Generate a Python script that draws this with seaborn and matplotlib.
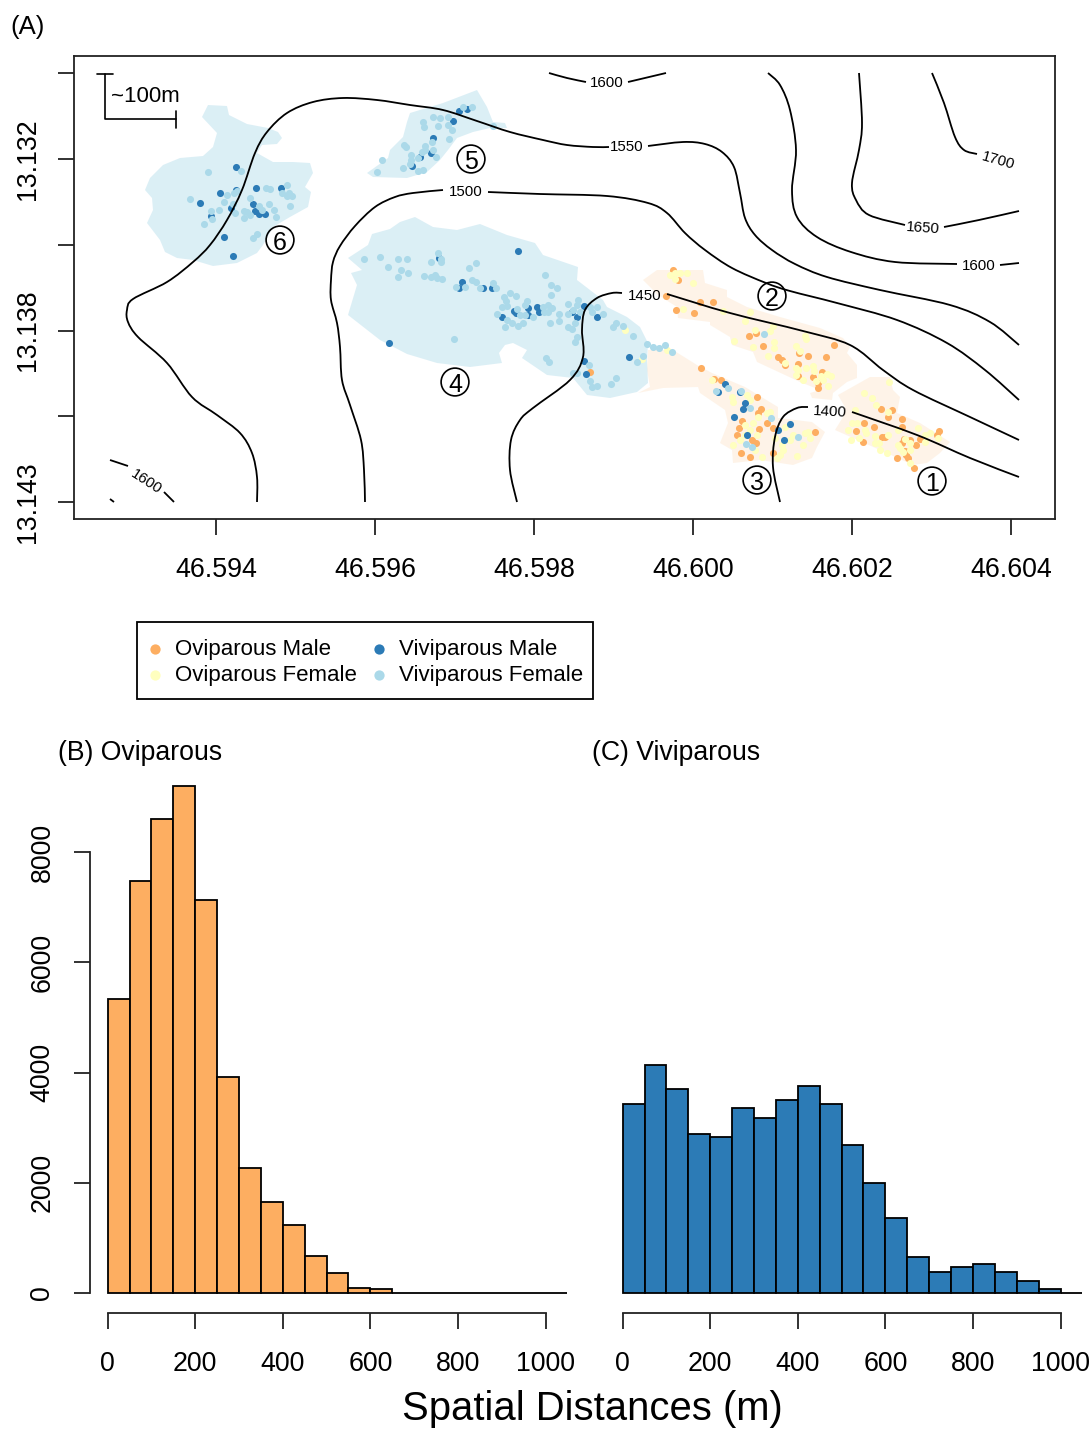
import numpy as np
import pandas as pd
import matplotlib
matplotlib.use("Agg")
import matplotlib.pyplot as plt
from matplotlib.path import Path
from matplotlib.patches import PathPatch, Rectangle
import seaborn as sns

W, H = 1092, 1429
sns.set_theme(style="white")
plt.rcParams['font.family'] = ['Liberation Sans', 'DejaVu Sans']
plt.rcParams['text.color'] = 'black'

ORANGE, YELLOW, BLUE, SKY = "#fdae61", "#ffffbf", "#2c7bb6", "#abd9e9"

# ---- survey-grid data (1 grid unit ~ 1.4 m, northing grows southward)
LON0, LON_PER = 46.594, 0.002 / 159
LAT0, LAT_PER = 13.1325, 0.00275 / 85.8
GRID_E0, GRID_N0 = 216, 159

site6 = [(208,105),(227,106),(229,115),(247,124),(268,128),(278,132),(282,138),(277,144),(262,145),(257,153),(273,162),(293,162),(310,163),(313,173),(305,187),(311,192),(308,207),(290,217),(273,227),(263,245),(257,253),(237,263),(213,266),(193,260),(177,258),(165,252),(160,240),(147,223),(153,210),(152,198),(145,190),(150,178),(163,165),(180,158),(203,156),(213,147),(217,133),(202,117)]
site5 = [(477,90),(487,107),(493,122),(505,123),(507,128),(490,128),(473,132),(457,138),(448,150),(440,160),(427,172),(407,178),(373,177),(367,173),(388,158),(390,150),(403,137),(407,122),(410,113),(443,103)]
site4 = [(415,217),(433,227),(457,230),(480,224),(507,235),(535,243),(543,255),(578,267),(577,280),(603,300),(607,307),(627,317),(640,327),(648,343),(647,360),(648,383),(637,392),(610,398),(587,395),(573,378),(547,375),(522,358),(527,350),(513,343),(505,345),(499,353),(502,363),(470,367),(437,363),(407,354),(380,340),(348,315),(357,285),(351,273),(362,270),(348,258),(368,245),(372,234),(390,229),(400,222)]
site2 = [(643,280),(657,270),(703,270),(705,283),(727,290),(727,297),(747,307),(780,317),(820,328),(843,338),(850,347),(847,353),(857,365),(857,378),(847,382),(833,393),(832,400),(812,398),(810,393),(820,390),(800,382),(757,362),(753,352),(732,345),(730,337),(710,325),(710,322),(678,318),(677,307),(658,295)]
site3 = [(648,350),(673,350),(697,365),(712,373),(745,387),(778,407),(778,418),(812,422),(825,432),(817,447),(812,458),(793,465),(760,460),(733,463),(732,450),(720,443),(728,423),(725,410),(700,393),(698,387),(663,388),(638,393),(650,387),(647,370)]
site1 = [(838,395),(870,377),(890,377),(893,390),(900,397),(897,413),(920,423),(950,442),(940,453),(927,463),(913,465),(880,450),(835,430),(843,417),(845,407)]

ovi_male = [(673,270),(678,280),(666,296),(676,310),(694,313),(700,302),(713,302),(749,336),(756,333),(763,346),(778,357),(782,360),(785,365),(798,364),(799,353),(808,356),(826,357),(834,345),(822,372),(813,377),(818,383),(818,388),(798,376),
 (590,372),(701,368),(714,379),(721,380),(757,397),(761,409),(758,413),(742,421),(739,428),(759,429),(737,435),(741,453),(750,457),(752,440),(756,443),(773,453),(815,432),(773,428),(767,423),
 (881,409),(892,410),(888,417),(902,419),(902,427),(864,423),(856,431),(874,427),(863,442),(885,437),(882,437),(904,439),(910,440),(902,443),(916,445),(897,458),(906,455),(908,458),(914,468),(905,451),(937,435),(939,431),(920,439)]
ovi_female = [(670,275),(675,273),(680,273),(687,273),(675,279),(693,283),(683,309),(723,311),(750,312),(745,321),(773,326),(770,331),(755,330),(734,341),(753,347),(774,342),(774,348),(768,356),(805,336),(806,339),(796,346),(800,351),(785,363),(796,368),(798,370),(796,375),(806,368),(813,366),(814,371),(821,376),(827,374),(831,376),(823,380),(828,386),(803,380),(816,381),
 (625,330),(642,359),(667,350),(712,380),(732,397),(733,402),(747,395),(750,400),(767,413),(770,412),(758,417),(753,423),(745,425),(750,430),(745,435),(757,435),(733,445),(740,440),(755,450),(762,457),(780,455),(783,450),(777,458),(797,456),(785,427),(793,435),(803,445),(810,438),(805,433),(808,432),(790,440),(782,445),(775,438),
 (889,382),(864,393),(872,398),(876,405),(888,412),(855,410),(852,423),(857,423),(848,430),(851,440),(859,438),(865,430),(866,433),(875,436),(888,435),(875,443),(879,443),(880,450),(887,453),(898,445),(900,448),(903,452),(910,443),(910,450),(918,428),(925,435),(930,433),(938,438),(925,442),(910,463),(905,439),(898,430)]
viv_male = [(236,167),(220,193),(200,203),(256,188),(281,188),(253,204),(255,211),(259,214),(265,214),(231,208),(211,216),(224,237),(233,256),(236,190),
 (459,111),(467,109),(453,121),(433,138),(420,157),(431,153),(412,166),
 (518,251),(462,282),(459,288),(483,288),(492,288),(439,258),(502,317),(514,311),(516,313),(528,308),(528,315),(537,307),(539,312),(584,306),(577,317),(597,317),(572,312),(584,361),(586,374),(629,357),(389,343),
 (725,384),(718,392),(740,392),(745,403),(743,409),(734,417),(747,435),(790,424),(778,430),(784,440)]
viv_female = [(208,172),(241,171),(190,199),(227,195),(234,193),(237,191),(266,188),(270,189),(287,185),(282,193),(287,196),(292,196),(289,193),(250,198),(224,202),(233,204),(269,204),(259,206),(290,206),(274,210),(244,211),(247,212),(250,215),(262,210),(276,217),(244,218),(211,211),(219,210),(235,213),(212,219),(204,224),(253,238),(257,234),
 (472,107),(463,107),(433,117),(440,118),(448,117),(423,122),(424,127),(438,126),(448,125),(452,130),(432,142),(449,139),(404,145),(406,147),(425,146),(425,150),(422,152),(433,150),(436,157),(411,155),(411,160),(418,158),(382,160),(403,168),(410,164),(377,172),(418,171),(423,170),(493,126),
 (364,259),(380,257),(398,259),(407,259),(388,267),(401,270),(408,273),(398,277),(431,262),(438,253),(441,259),(441,262),(469,268),(476,263),(424,276),(431,277),(435,275),(437,278),(442,279),(456,287),(465,287),(472,280),(476,282),(480,288),(493,283),(496,288),(545,275),(551,285),(557,288),(551,295),(510,293),(516,296),(504,297),(506,301),(502,307),(507,306),(527,301),(525,305),(517,309),(497,314),(507,320),(512,323),(505,327),(518,326),(523,323),(520,315),(525,315),(533,317),(543,307),(548,305),(552,308),(548,312),(544,312),(550,323),(559,314),(559,321),(568,304),(568,314),(578,300),(577,305),(573,310),(580,312),(575,323),(568,327),(572,329),(577,337),(575,342),(590,307),(597,307),(603,314),(592,312),(616,323),(613,327),(623,326),(633,336),(647,344),(653,347),(659,348),(665,345),(454,339),(546,358),(549,362),(637,362),(643,356),(589,365),(573,373),(577,373),(590,381),(592,387),(597,386),(611,384),(616,378),
 (672,352),(764,334),(716,391),(728,388),(741,391),(750,408),(771,418),(798,437),(746,444),(752,447)]

iso_1550 = [(257,502),(257,477),(252,453),(240,433),(217,415),(192,397),(167,363),(138,337),(128,322),(127,310),(133,299),(167,282),(193,262),(210,245),(227,220),(242,190),(255,153),(267,132),(287,113),(313,102),(343,98),(377,100),(410,105),(443,110),(477,121),(510,132),(543,140),(567,145),(593,147),(609,147)]
iso_1550b = [(648,146),(683,142),(705,144),(722,152),(734,167),(740,193),(745,218),(755,235),(772,250),(795,264),(827,277),(880,290),(950,305),(990,322),(1019,345)]
iso_1600a = [(549,73),(567,78),(586,82)]
iso_1600b = [(628,82),(666,73)]
iso_1600c = [(768,73),(780,85),(790,110),(796,150),(792,190),(797,217),(817,237),(851,252),(895,262),(957,264)]
iso_1600d = [(1000,265),(1019,263)]
iso_1600e = [(110,460),(128,466)]
iso_1600f = [(164,492),(174,502)]
iso_1600g = [(110,499),(114,502)]
iso_1650a = [(859,73),(862,123),(859,150),(852,183),(856,200),(869,215),(905,225)]
iso_1650b = [(944,227),(979,220),(1019,211)]
iso_1700 = [(932,73),(944,103),(955,137),(964,150),(977,154)]
iso_1500a = [(365,502),(364,470),(361,440),(350,405),(342,380),(340,347),(337,323),(331,300),(331,280),(333,262),(340,246),(355,226),(375,207),(395,197),(413,193),(443,190)]
iso_1500b = [(488,192),(540,194),(607,196),(648,203),(667,213),(685,233),(705,250),(732,268),(766,283),(790,291),(837,303),(897,320),(947,343),(985,370),(1019,400)]
iso_1450a = [(517,502),(510,470),(511,440),(520,420),(533,408),(570,380),(583,357),(582,330),(585,310),(597,298),(612,293),(622,293)]
iso_1450b = [(667,294),(730,313),(803,331),(850,345),(883,370),(913,390),(970,417),(1019,440)]
iso_1400a = [(780,502),(773,467),(775,437),(783,417),(797,408),(808,407)]
iso_1400b = [(852,412),(917,435),(970,458),(1019,477)]
contours = [iso_1550, iso_1550b, iso_1600a, iso_1600b, iso_1600c, iso_1600d, iso_1600e, iso_1600f, iso_1600g,
            iso_1650a, iso_1650b, iso_1700, iso_1500a, iso_1500b, iso_1450a, iso_1450b, iso_1400a, iso_1400b]

contour_text = ["1600", "1550", "1500", "1450", "1400", "1650", "1600", "1700", "1600"]
contour_pos = [(607,83),(627,147),(466,192),(645,296),(830,412),(923,228),(979,266),(998,161),(146,482)]
contour_rot = [0, 0, 0, 0, -3, -4, 0, -16, -33]

site_names = ["1", "2", "3", "4", "5", "6"]
site_pos = [(932,481),(772,296),(757,480),(455,382),(471,159),(280,240)]

lon_ticks = [46.594, 46.596, 46.598, 46.600, 46.602, 46.604]
lon_labels = ["46.594", "46.596", "46.598", "46.600", "46.602", "46.604"]
lat_ticks = [13.12975, 13.1325, 13.13525, 13.138, 13.14075, 13.1435]
lat_labels = ["", "13.132", "", "13.138", "", "13.143"]

bin_edges = list(range(0, 1051, 50))
ovi_counts = [5330, 7470, 8600, 9200, 7130, 3920, 2270, 1650, 1230, 670, 360, 90, 70, 0, 0, 0, 0, 0, 0, 0, 0]
viv_counts = [3430, 4140, 3700, 2880, 2830, 3360, 3170, 3500, 3750, 3430, 2680, 2000, 1360, 650, 380, 470, 520, 380, 220, 70, 0]
dist_ticks = [0, 200, 400, 600, 800, 1000]
count_ticks = [0, 2000, 4000, 6000, 8000]


def lon(e):
    return LON0 + (np.asarray(e, float) - GRID_E0) * LON_PER


def lat(n):
    return LAT0 + (np.asarray(n, float) - GRID_N0) * LAT_PER


def rect(l, t, r, b):
    return [l / W, 1 - b / H, (r - l) / W, (b - t) / H]


def smooth_path(pts):
    """Catmull-Rom through the read vertices, as Bezier path segments."""
    p = np.column_stack([lon([q[0] for q in pts]), lat([q[1] for q in pts])])
    if len(p) < 3:
        return Path(p)
    verts, codes = [p[0]], [Path.MOVETO]
    for i in range(len(p) - 1):
        p0 = p[max(i - 1, 0)]
        p1, p2 = p[i], p[i + 1]
        p3 = p[min(i + 2, len(p) - 1)]
        verts += [p1 + (p2 - p0) / 6, p2 - (p3 - p1) / 6, p2]
        codes += [Path.CURVE4] * 3
    return Path(verts, codes)


fig = plt.figure(figsize=(W / 100, H / 100), dpi=100, facecolor="white")
LW = 1.3
TICK = 11.7
INK = "#222222"

# ---- (A) map
ax = fig.add_axes(rect(74, 56, 1055, 519))
for s, c, a in [(site1, ORANGE, .14), (site2, ORANGE, .14), (site3, ORANGE, .14),
                (site4, SKY, .42), (site5, SKY, .42), (site6, SKY, .42)]:
    ax.fill(lon([q[0] for q in s]), lat([q[1] for q in s]), color=c, alpha=a, lw=0, zorder=1)

groups = [("Oviparous Male", ovi_male, ORANGE), ("Oviparous Female", ovi_female, YELLOW),
          ("Viviparous Male", viv_male, BLUE), ("Viviparous Female", viv_female, SKY)]
for name, pts, col in groups:
    d = pd.DataFrame({"lon": lon([q[0] for q in pts]), "lat": lat([q[1] for q in pts])})
    sns.scatterplot(data=d, x="lon", y="lat", color=col, s=26, linewidth=0, ax=ax, label=name, zorder=2)

for c in contours:
    ax.add_patch(PathPatch(smooth_path(c), fill=False, edgecolor="black", lw=1.3, zorder=3, capstyle="butt"))
for t, (x, y), r in zip(contour_text, contour_pos, contour_rot):
    ax.text(lon(x), lat(y), t, fontsize=10.8, ha="center", va="center", rotation=r, rotation_mode="anchor", color="black", zorder=4)
for t, (x, y) in zip(site_names, site_pos):
    ax.scatter(lon(x), lat(y), s=400, facecolor="none", edgecolor="black", lw=1.2, zorder=4)
    ax.text(lon(x), lat(y) + 0.2 * LAT_PER, t, fontsize=18, ha="center", va="center_baseline", color="black", zorder=5)

ax.plot(lon([97, 113]), lat([74, 74]), color="black", lw=1.2)
ax.plot(lon([104.5, 104.5, 176]), lat([74, 119.5, 119.5]), color="black", lw=1.2)
ax.plot(lon([176, 176]), lat([111, 128]), color="black", lw=1.2)
ax.text(lon(111), lat(96), "~100m", fontsize=16, ha="left", va="center", color="black")

ax.set_xlim(lon(74), lon(1055))
ax.set_ylim(lat(519), lat(56))
ax.set_xticks(lon_ticks, lon_labels)
ax.set_yticks(lat_ticks, lat_labels)
ax.set_xlabel("")
ax.set_ylabel("")
ax.tick_params(axis="x", length=TICK, width=LW, color=INK, labelsize=19.3, pad=16, labelcolor="black", bottom=True)
ax.tick_params(axis="y", length=TICK, width=LW, color=INK, labelsize=19.3, pad=12.3, labelcolor="black", left=True)
for l in ax.get_yticklabels():
    l.set_rotation(90)
    l.set_va("center")
for s in ax.spines.values():
    s.set_linewidth(LW)
    s.set_color(INK)

# legend: real entries over a box sized to the reference
fig.add_artist(Rectangle((136.5 / W, 1 - 699 / H), 456.5 / W, 77 / H, transform=fig.transFigure,
                         facecolor="white", edgecolor="black", lw=LW, zorder=5))
handles, labels = ax.get_legend_handles_labels()
leg = ax.legend(handles, labels, ncol=2, loc="upper left", bbox_to_anchor=(153 / W, 1 - 638.5 / H), bbox_transform=fig.transFigure,
                fontsize=16, frameon=False, markerscale=1.45,
                borderpad=0, labelspacing=0.23, handletextpad=0.82, columnspacing=0.9, handlelength=0.18, borderaxespad=0)
leg.set_zorder(10)
ax.set_zorder(6)

# ---- (B), (C) histograms
centers = [(a + b) / 2 for a, b in zip(bin_edges[:-1], bin_edges[1:])]
for name, counts, col, x0, show_y in [("(B) Oviparous", ovi_counts, ORANGE, 107.7, True),
                                       ("(C) Viviparous", viv_counts, BLUE, 622.7, False)]:
    px = 0.4378
    left, right = x0 - 18, x0 + 1050 * px
    a = fig.add_axes(rect(left, 780, right, 1313))
    sns.histplot(x=centers, weights=counts, bins=bin_edges, color=col, alpha=1, edgecolor="black", linewidth=1.3, ax=a)
    a.set_xlim(-18 / px, 1050)
    per = (1293 - 852) / 8000
    a.set_ylim(-(1313 - 1293) / per, (1293 - 780) / per)
    a.set_xlabel("")
    a.set_ylabel("")
    a.set_xticks(dist_ticks, [str(v) for v in dist_ticks])
    a.tick_params(axis="x", length=TICK, width=LW, color=INK, labelsize=19.3, pad=16, labelcolor="black", bottom=True)
    for s in ["top", "right"]:
        a.spines[s].set_visible(False)
    a.spines["bottom"].set_bounds(0, 1000)
    a.spines["bottom"].set_linewidth(LW)
    a.spines["bottom"].set_color(INK)
    if show_y:
        a.set_yticks(count_ticks, [str(v) for v in count_ticks])
        a.tick_params(axis="y", length=TICK, width=LW, color=INK, labelsize=19.3, pad=13, labelcolor="black", left=True)
        for l in a.get_yticklabels():
            l.set_rotation(90)
            l.set_va("center")
        a.spines["left"].set_bounds(0, 8000)
        a.spines["left"].set_linewidth(LW)
        a.spines["left"].set_color(INK)
    else:
        a.set_yticks([])
        a.spines["left"].set_visible(False)
    a.patch.set_alpha(0)

fig.text(10 / W, 1 - 27 / H, "(A)", fontsize=18.5, ha="left", va="center", color="black")
fig.text(58 / W, 1 - 753 / H, "(B) Oviparous", fontsize=19.2, ha="left", va="center", color="black")
fig.text(592 / W, 1 - 753 / H, "(C) Viviparous", fontsize=19.2, ha="left", va="center", color="black")
fig.text(592 / W, 1 - 1409 / H, "Spatial Distances (m)", fontsize=28.8, ha="center", va="center", color="black")

fig.savefig("out.png", dpi=100)
